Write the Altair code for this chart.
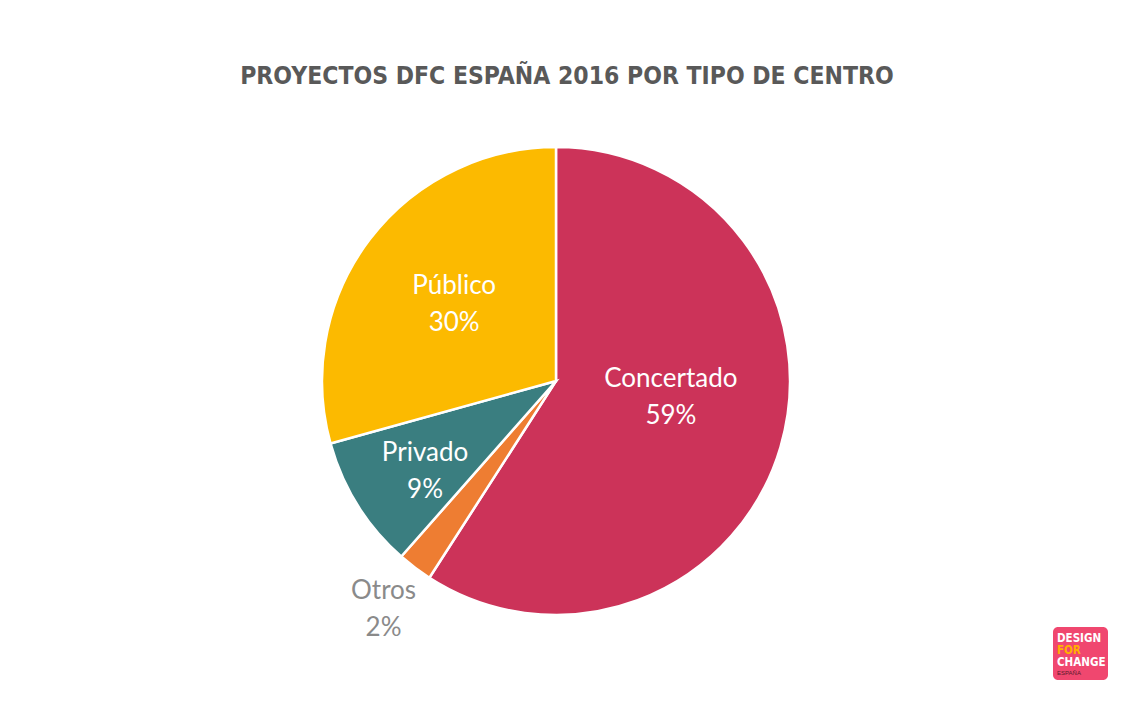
import altair as alt
import pandas as pd

categories = ["Concertado", "Otros", "Privado", "Público"]
values = [59.1, 2.4, 9.2, 29.3]
pct_labels = ["59%", "2%", "9%", "30%"]
colors = ["#CC3359", "#EE7D32", "#3A7E80", "#FCBA00"]
title_text = "PROYECTOS DFC ESPAÑA 2016 POR TIPO DE CENTRO"
logo_lines = ["DESIGN", "FOR", "CHANGE", "ESPAÑA"]

df = pd.DataFrame({
    "cat": categories,
    "val": values,
    "pct": pct_labels,
    "order": list(range(len(categories))),
})

W, H = 1134, 709
CX, CY, R = 556, 381, 234

arcs = alt.Chart(df).mark_arc(outerRadius=R, stroke="white", strokeWidth=2.5).encode(
    theta=alt.Theta("val:Q", stack=True),
    order=alt.Order("order:Q"),
    x=alt.value(CX), y=alt.value(CY),
    color=alt.Color("cat:N", scale=alt.Scale(domain=categories, range=colors), legend=None),
)

label_r_expr = ("datum.cat == 'Otros' ? 286 : datum.cat == 'Privado' ? 159 : "
                "datum.cat == 'Público' ? 128 : 116")
label_dt_expr = ("datum.cat == 'Concertado' ? -0.147 : datum.cat == 'Privado' ? -0.044 : 0")

labels = alt.Chart(df).transform_window(
    cum="sum(val)", sort=[alt.SortField("order")], frame=[None, 0]
).transform_joinaggregate(
    total="sum(val)"
).transform_calculate(
    mid="(datum.cum - datum.val / 2) / datum.total * 2 * PI + (" + label_dt_expr + ")",
    lr=label_r_expr,
    txt="[datum.cat, datum.pct]",
).mark_text(font="Lato", fontSize=26, lineHeight=37, baseline="middle", align="center", dy=-18).encode(
    x=alt.value(CX), y=alt.value(CY),
    theta=alt.Theta("mid:Q", scale=None),
    radius=alt.Radius("lr:Q", scale=None),
    text=alt.Text("txt:N"),
    color=alt.condition("datum.cat == 'Otros'", alt.value("#8A8A8A"), alt.value("#FFFFFF")),
)

title = alt.Chart(pd.DataFrame({"t": [title_text]})).mark_text(
    font="DejaVu Sans Condensed", fontWeight="bold", fontSize=24.5, color="#595959",
    align="center", baseline="middle",
).encode(x=alt.value(567), y=alt.value(77), text="t:N")

logo_bg = alt.Chart(pd.DataFrame({"a": [0]})).mark_rect(
    color="#F0476F", cornerRadius=5,
).encode(x=alt.value(1053), x2=alt.value(1108), y=alt.value(627), y2=alt.value(680))

logo_df = pd.DataFrame({
    "line": logo_lines,
    "c": ["#FFFFFF", "#FFB000", "#FFFFFF", "#FFFFFF"],
    "yy": [639, 651, 663, 673],
})
logo_big = alt.Chart(logo_df).transform_filter("datum.line != 'ESPAÑA'").mark_text(
    font="DejaVu Sans Condensed", fontWeight="bold", fontSize=11.5, align="left", baseline="middle",
).encode(
    x=alt.value(1057),
    y=alt.Y("yy:Q", scale=None),
    text="line:N",
    color=alt.Color("c:N", scale=None),
)
logo_small = alt.Chart(logo_df).transform_filter("datum.line == 'ESPAÑA'").mark_text(
    font="Liberation Sans", fontSize=6, align="left", baseline="middle", color="#5a1a2a",
).encode(x=alt.value(1057), y=alt.Y("yy:Q", scale=None), text="line:N")

chart = alt.layer(arcs, labels, title, logo_bg, logo_big, logo_small).properties(
    width=W, height=H, padding=0, autosize="none", background="white",
).configure_view(stroke=None)

chart.save("out.html", embed_options={"renderer": "svg", "actions": False})
